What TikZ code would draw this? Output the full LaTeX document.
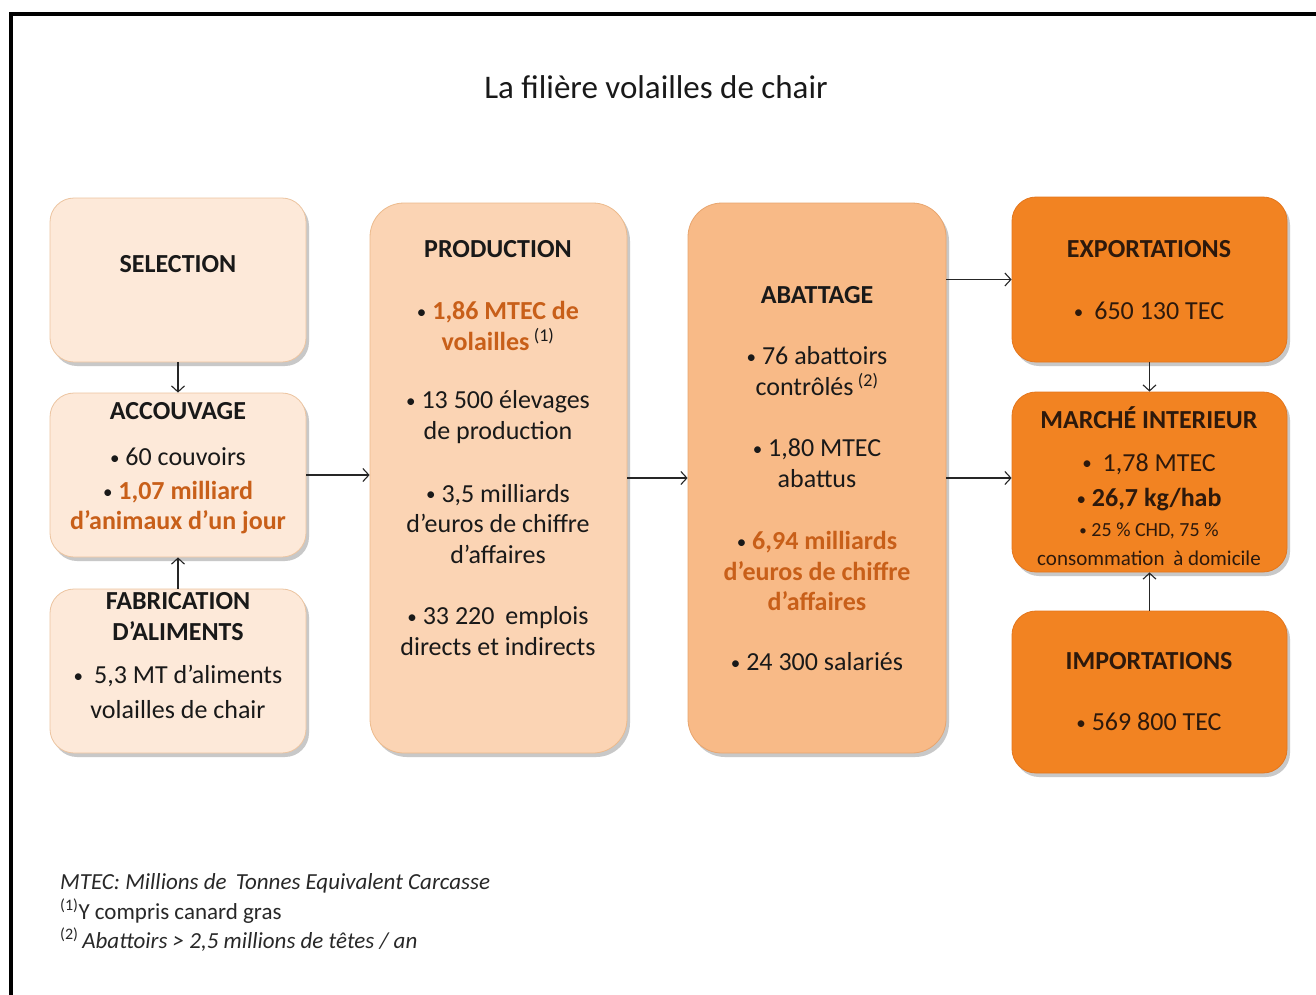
\documentclass[tikz,border=0pt]{standalone}
\usepackage{fontspec}
\setmainfont{Carlito}
\usetikzlibrary{arrows.meta,shadows}
\definecolor{ink}{RGB}{25,25,25}
\definecolor{brownink}{RGB}{45,25,12}
\definecolor{hl}{RGB}{200,95,25}
\definecolor{lightfill}{RGB}{253,233,217}
\definecolor{lightedge}{RGB}{236,196,160}
\definecolor{prodfill}{RGB}{251,212,180}
\definecolor{prodedge}{RGB}{236,186,140}
\definecolor{abafill}{RGB}{248,186,135}
\definecolor{abaedge}{RGB}{232,165,110}
\definecolor{orfill}{RGB}{242,131,34}
\definecolor{oredge}{RGB}{228,118,28}
\definecolor{foot}{RGB}{40,40,40}
\tikzset{
  boxbase/.style={rectangle, rounded corners=24pt, line width=0.8pt,
    drop shadow={shadow xshift=3pt, shadow yshift=-4pt, opacity=0.3, fill=black!70}},
  lightbox/.style={boxbase, fill=lightfill, draw=lightedge, minimum width=256pt, minimum height=164pt},
  prodbox/.style={boxbase, rounded corners=34pt, fill=prodfill, draw=prodedge, minimum width=257pt, minimum height=550pt},
  ababox/.style={boxbase, rounded corners=34pt, fill=abafill, draw=abaedge, minimum width=258pt, minimum height=550pt},
  orbox/.style={boxbase, fill=orfill, draw=oredge, minimum width=275pt},
  txt/.style={align=center, inner sep=0pt, text=ink, font=\fontsize{26}{30.5}\selectfont},
  otxt/.style={txt, text=brownink},
  ttl/.style={txt, font=\fontsize{26}{31}\selectfont\bfseries},
  ottl/.style={ttl, text=brownink},
  conn/.style={draw=black!85, line width=1.1pt, -{Straight Barb[length=6pt,width=13pt]}},
  foottxt/.style={anchor=west, inner sep=0pt, text=foot, font=\fontsize{23}{26}\selectfont}
}
\newcommand{\sups}[1]{\textsuperscript{\fontsize{18}{18}\selectfont(#1)}}
\newcommand{\bul}{\raisebox{1.5pt}{\fontsize{19}{19}\selectfont\mdseries •}}
\begin{document}
\begin{tikzpicture}[x=1pt,y=-1pt]
\useasboundingbox (0,0) rectangle (1316,994);
\fill[white] (0,0) rectangle (1316,994);
\draw[line width=4pt] (11,1010) -- (11,14) -- (1330,14);

\node[txt, font=\fontsize{33}{36}\selectfont] (title) at (656,87) {La filière volailles de chair};

% boxes
\node[lightbox] (sel) at (178,280) {};
\node[lightbox] (acc) at (178,475) {};
\node[lightbox] (fab) at (178,671) {};
\node[prodbox] (prod) at (498.5,478) {};
\node[ababox] (aba) at (817,478) {};
\node[orbox, minimum height=165pt] (exp) at (1149.5,279.5) {};
\node[orbox, minimum height=180pt] (mar) at (1149.5,482) {};
\node[orbox, minimum height=162pt] (imp) at (1149.5,692) {};

% connectors
\draw[conn] (sel.south) -- (acc.north);
\draw[conn] (fab.north) -- (acc.south);
\draw[conn] (acc.east) -- (acc.east -| prod.west);
\draw[conn] (prod.east) -- (prod.east -| aba.west);
\draw[conn] (aba.east |- exp.west) -- (exp.west);
\draw[conn] (aba.east) -- (aba.east -| mar.west);
\draw[conn] (exp.south) -- (mar.north);
\draw[conn] (imp.north) -- (mar.south);

% SELECTION
\node[ttl] (selT) at (178,264) {SELECTION};
% ACCOUVAGE
\node[ttl] (accT) at (178,411) {ACCOUVAGE};
\node[txt] (acc1) at (178,457) {\bul\ 60 couvoirs};
\node[txt, font=\fontsize{26}{30}\selectfont\bfseries] (acc2) at (178,508) {\bul\ \textcolor{hl}{1,07 milliard}\\\textcolor{hl}{d’animaux d’un jour}};
% FABRICATION
\node[ttl] (fabT) at (178,617) {FABRICATION\\D’ALIMENTS};
\node[txt, font=\fontsize{26}{35}\selectfont] (fab1) at (178,692) {\bul\hspace{11pt}5,3 MT d’aliments\\volailles de chair};

% PRODUCTION
\node[ttl] (prodT) at (498,249) {PRODUCTION};
\node[txt, font=\fontsize{26}{30.5}\selectfont\bfseries] (prod1) at (498,326) {\bul\ \textcolor{hl}{1,86 MTEC de}\\\textcolor{hl}{volailles}\,{\mdseries\sups{1}}};
\node[txt] (prod2) at (498,417) {\bul\ 13 500 élevages\\de production};
\node[txt] (prod3) at (498,524) {\bul\ 3,5 milliards\\d’euros de chiffre\\d’affaires};
\node[txt] (prod4) at (498,631) {\bul\ 33 220\hspace{5pt} emplois\\directs et indirects};

% ABATTAGE
\node[ttl] (abaT) at (817,295) {ABATTAGE};
\node[txt] (aba1) at (817,371) {\bul\ 76 abattoirs\\contrôlés\,\sups{2}};
\node[txt] (aba2) at (817,463) {\bul\ 1,80 MTEC\\abattus};
\node[txt, font=\fontsize{26}{30.5}\selectfont\bfseries] (aba3) at (817,571) {\bul\ \textcolor{hl}{6,94 milliards}\\\textcolor{hl}{d’euros de chiffre}\\\textcolor{hl}{d’affaires}};
\node[txt] (aba4) at (817,662) {\bul\ 24 300 salariés};

% EXPORTATIONS
\node[ottl] (expT) at (1149,249) {EXPORTATIONS};
\node[otxt] (exp1) at (1149,311) {\bul\hspace{11pt}650 130 TEC};
% MARCHE
\node[ottl] (marT) at (1149,418) {MARCHÉ INTERIEUR};
\node[otxt] (mar1) at (1149,464) {\bul\hspace{11pt}1,78 MTEC};
\node[otxt, font=\fontsize{26}{30}\selectfont\bfseries] (mar2) at (1149,500) {\bul\ 26,7 kg/hab};
\node[otxt, font=\fontsize{20}{22}\selectfont] (mar3) at (1149,531) {\raisebox{1pt}{\fontsize{15}{15}\selectfont •} 25 \% CHD, 75 \%};
\node[otxt, font=\fontsize{21}{22}\selectfont] (mar4) at (1149,558) {consommation\hspace{4pt} à domicile};
% IMPORTATIONS
\node[ottl] (impT) at (1149,661) {IMPORTATIONS};
\node[otxt] (imp1) at (1149,722) {\bul\ 569 800 TEC};

% footnotes
\node[foottxt, font=\fontsize{23}{26}\selectfont\itshape] (f1) at (60,883) {MTEC: Millions de\hspace{4pt} Tonnes Equivalent Carcasse};
\node[foottxt] (f2) at (60,911) {\textsuperscript{\fontsize{16}{16}\selectfont(1)}Y compris canard gras};
\node[foottxt] (f3) at (60,940) {\textsuperscript{\fontsize{16}{16}\selectfont(2)}\,\textit{Abattoirs > 2,5 millions de têtes / an}};
\end{tikzpicture}
\end{document}
